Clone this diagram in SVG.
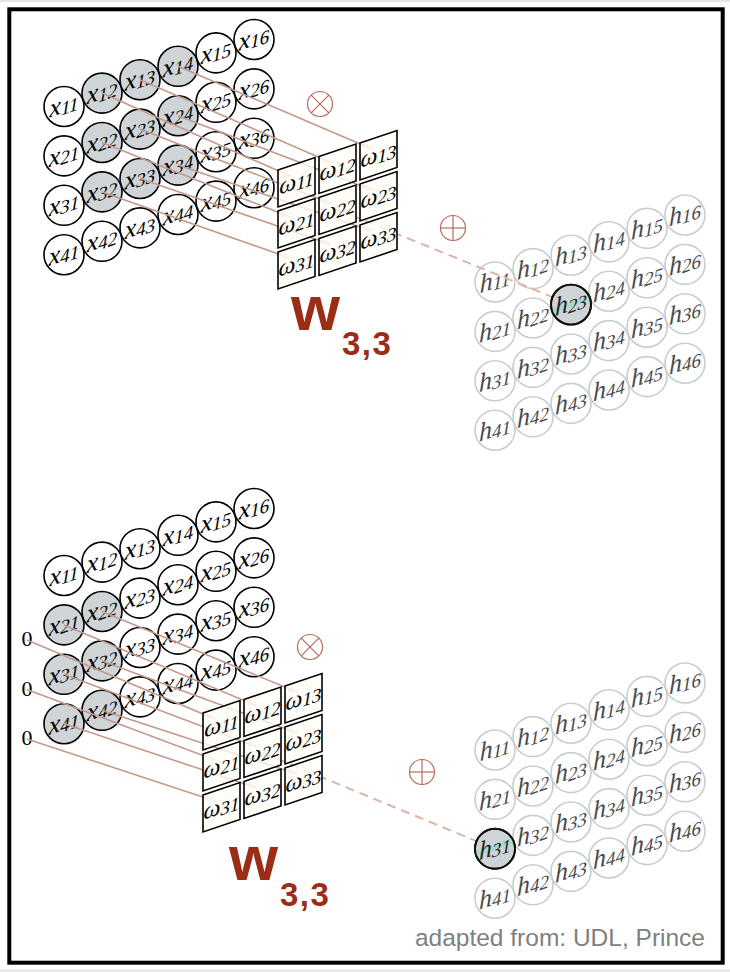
<svg xmlns="http://www.w3.org/2000/svg" width="730" height="972" viewBox="0 0 730 972">
<style>
.xc{fill:#fff;stroke:#000;stroke-width:1.6}
.xs{fill:#cfd4d6;stroke:#000;stroke-width:1.6}
.hc{fill:#fff;stroke:#c8cdd0;stroke-width:1.6}
.hs{fill:#cfd4d6;stroke:#111;stroke-width:1.9}
.lab{font-family:"Liberation Serif","DejaVu Serif",serif;font-style:italic;font-size:26px;text-anchor:middle;fill:#000}
.wl{font-size:24px}
.hl{fill:#4a4a4a}
.hd{fill:#222}
.sub{font-size:19px}
.wb{fill:#fefdf6;fill-opacity:0.78;stroke:#000;stroke-width:1.6}
.ln{stroke:#c39a8c;stroke-width:1.6;fill:none;marker-end:url(#ah)}
.dl{stroke:#dcb4a7;stroke-width:2;fill:none;stroke-dasharray:9 6}
.op{fill:none;stroke:#b86b5a;stroke-width:1.2}
.zero{font-family:"Liberation Serif","DejaVu Serif",serif;font-size:22px;text-anchor:middle;fill:#000}
.W{font-family:"Liberation Sans",Arial,sans-serif;font-weight:bold;fill:#9b2d17}
.teal{stroke:#a6dbd2;stroke-width:5;clip-path:url(#hclip)}
</style>
<defs>
<marker id="ah" markerUnits="userSpaceOnUse" markerWidth="9" markerHeight="7" refX="8" refY="3" orient="auto"><path d="M0,0 L8,3 L0,6 z" fill="#e0c6bd"/></marker>
<clipPath id="hclip"><circle r="20"/></clipPath>
</defs>
<rect x="0" y="0" width="730" height="972" fill="#fff"/>
<rect x="0" y="0" width="730" height="2" fill="#e6e6e6"/>
<rect x="0" y="969" width="730" height="3" fill="#ececec"/>
<rect x="9.3" y="9.3" width="713.4" height="953.4" fill="none" stroke="#000" stroke-width="4"/>

<!-- TOP X GRID -->
<g id="top-x">
<g id="tx11" transform="translate(64,106.5)"><circle r="20" class="xc"/><text class="lab" transform="skewY(-19)" y="6">x<tspan class="sub" dy="2">11</tspan></text></g>
<g id="tx12" transform="translate(102,93.1)"><circle r="20" class="xs"/><text class="lab" transform="skewY(-19)" y="6">x<tspan class="sub" dy="2">12</tspan></text></g>
<g id="tx13" transform="translate(140,79.7)"><circle r="20" class="xs"/><text class="lab" transform="skewY(-19)" y="6">x<tspan class="sub" dy="2">13</tspan></text></g>
<g id="tx14" transform="translate(178,66.3)"><circle r="20" class="xs"/><text class="lab" transform="skewY(-19)" y="6">x<tspan class="sub" dy="2">14</tspan></text></g>
<g id="tx15" transform="translate(216,52.9)"><circle r="20" class="xc"/><text class="lab" transform="skewY(-19)" y="6">x<tspan class="sub" dy="2">15</tspan></text></g>
<g id="tx16" transform="translate(254,39.5)"><circle r="20" class="xc"/><text class="lab" transform="skewY(-19)" y="6">x<tspan class="sub" dy="2">16</tspan></text></g>
<g id="tx21" transform="translate(64,155.9)"><circle r="20" class="xc"/><text class="lab" transform="skewY(-19)" y="6">x<tspan class="sub" dy="2">21</tspan></text></g>
<g id="tx22" transform="translate(102,142.5)"><circle r="20" class="xs"/><text class="lab" transform="skewY(-19)" y="6">x<tspan class="sub" dy="2">22</tspan></text></g>
<g id="tx23" transform="translate(140,129.1)"><circle r="20" class="xs"/><text class="lab" transform="skewY(-19)" y="6">x<tspan class="sub" dy="2">23</tspan></text></g>
<g id="tx24" transform="translate(178,115.7)"><circle r="20" class="xs"/><text class="lab" transform="skewY(-19)" y="6">x<tspan class="sub" dy="2">24</tspan></text></g>
<g id="tx25" transform="translate(216,102.3)"><circle r="20" class="xc"/><text class="lab" transform="skewY(-19)" y="6">x<tspan class="sub" dy="2">25</tspan></text></g>
<g id="tx26" transform="translate(254,88.9)"><circle r="20" class="xc"/><text class="lab" transform="skewY(-19)" y="6">x<tspan class="sub" dy="2">26</tspan></text></g>
<g id="tx31" transform="translate(64,205.3)"><circle r="20" class="xc"/><text class="lab" transform="skewY(-19)" y="6">x<tspan class="sub" dy="2">31</tspan></text></g>
<g id="tx32" transform="translate(102,191.9)"><circle r="20" class="xs"/><text class="lab" transform="skewY(-19)" y="6">x<tspan class="sub" dy="2">32</tspan></text></g>
<g id="tx33" transform="translate(140,178.5)"><circle r="20" class="xs"/><text class="lab" transform="skewY(-19)" y="6">x<tspan class="sub" dy="2">33</tspan></text></g>
<g id="tx34" transform="translate(178,165.1)"><circle r="20" class="xs"/><text class="lab" transform="skewY(-19)" y="6">x<tspan class="sub" dy="2">34</tspan></text></g>
<g id="tx35" transform="translate(216,151.7)"><circle r="20" class="xc"/><text class="lab" transform="skewY(-19)" y="6">x<tspan class="sub" dy="2">35</tspan></text></g>
<g id="tx36" transform="translate(254,138.3)"><circle r="20" class="xc"/><text class="lab" transform="skewY(-19)" y="6">x<tspan class="sub" dy="2">36</tspan></text></g>
<g id="tx41" transform="translate(64,254.7)"><circle r="20" class="xc"/><text class="lab" transform="skewY(-19)" y="6">x<tspan class="sub" dy="2">41</tspan></text></g>
<g id="tx42" transform="translate(102,241.3)"><circle r="20" class="xc"/><text class="lab" transform="skewY(-19)" y="6">x<tspan class="sub" dy="2">42</tspan></text></g>
<g id="tx43" transform="translate(140,227.9)"><circle r="20" class="xc"/><text class="lab" transform="skewY(-19)" y="6">x<tspan class="sub" dy="2">43</tspan></text></g>
<g id="tx44" transform="translate(178,214.5)"><circle r="20" class="xc"/><text class="lab" transform="skewY(-19)" y="6">x<tspan class="sub" dy="2">44</tspan></text></g>
<g id="tx45" transform="translate(216,201.1)"><circle r="20" class="xc"/><text class="lab" transform="skewY(-19)" y="6">x<tspan class="sub" dy="2">45</tspan></text></g>
<g id="tx46" transform="translate(254,187.7)"><circle r="20" class="xc"/><text class="lab" transform="skewY(-19)" y="6">x<tspan class="sub" dy="2">46</tspan></text></g>
</g>

<!-- BOTTOM X GRID -->
<g id="bot-x">
<g id="bx11" transform="translate(64,575.5)"><circle r="20" class="xc"/><text class="lab" transform="skewY(-19)" y="6">x<tspan class="sub" dy="2">11</tspan></text></g>
<g id="bx12" transform="translate(102,562.1)"><circle r="20" class="xc"/><text class="lab" transform="skewY(-19)" y="6">x<tspan class="sub" dy="2">12</tspan></text></g>
<g id="bx13" transform="translate(140,548.7)"><circle r="20" class="xc"/><text class="lab" transform="skewY(-19)" y="6">x<tspan class="sub" dy="2">13</tspan></text></g>
<g id="bx14" transform="translate(178,535.3)"><circle r="20" class="xc"/><text class="lab" transform="skewY(-19)" y="6">x<tspan class="sub" dy="2">14</tspan></text></g>
<g id="bx15" transform="translate(216,521.9)"><circle r="20" class="xc"/><text class="lab" transform="skewY(-19)" y="6">x<tspan class="sub" dy="2">15</tspan></text></g>
<g id="bx16" transform="translate(254,508.5)"><circle r="20" class="xc"/><text class="lab" transform="skewY(-19)" y="6">x<tspan class="sub" dy="2">16</tspan></text></g>
<g id="bx21" transform="translate(64,624.9)"><circle r="20" class="xs"/><text class="lab" transform="skewY(-19)" y="6">x<tspan class="sub" dy="2">21</tspan></text></g>
<g id="bx22" transform="translate(102,611.5)"><circle r="20" class="xs"/><text class="lab" transform="skewY(-19)" y="6">x<tspan class="sub" dy="2">22</tspan></text></g>
<g id="bx23" transform="translate(140,598.1)"><circle r="20" class="xc"/><text class="lab" transform="skewY(-19)" y="6">x<tspan class="sub" dy="2">23</tspan></text></g>
<g id="bx24" transform="translate(178,584.7)"><circle r="20" class="xc"/><text class="lab" transform="skewY(-19)" y="6">x<tspan class="sub" dy="2">24</tspan></text></g>
<g id="bx25" transform="translate(216,571.3)"><circle r="20" class="xc"/><text class="lab" transform="skewY(-19)" y="6">x<tspan class="sub" dy="2">25</tspan></text></g>
<g id="bx26" transform="translate(254,557.9)"><circle r="20" class="xc"/><text class="lab" transform="skewY(-19)" y="6">x<tspan class="sub" dy="2">26</tspan></text></g>
<g id="bx31" transform="translate(64,674.3)"><circle r="20" class="xs"/><text class="lab" transform="skewY(-19)" y="6">x<tspan class="sub" dy="2">31</tspan></text></g>
<g id="bx32" transform="translate(102,660.9)"><circle r="20" class="xs"/><text class="lab" transform="skewY(-19)" y="6">x<tspan class="sub" dy="2">32</tspan></text></g>
<g id="bx33" transform="translate(140,647.5)"><circle r="20" class="xc"/><text class="lab" transform="skewY(-19)" y="6">x<tspan class="sub" dy="2">33</tspan></text></g>
<g id="bx34" transform="translate(178,634.1)"><circle r="20" class="xc"/><text class="lab" transform="skewY(-19)" y="6">x<tspan class="sub" dy="2">34</tspan></text></g>
<g id="bx35" transform="translate(216,620.7)"><circle r="20" class="xc"/><text class="lab" transform="skewY(-19)" y="6">x<tspan class="sub" dy="2">35</tspan></text></g>
<g id="bx36" transform="translate(254,607.3)"><circle r="20" class="xc"/><text class="lab" transform="skewY(-19)" y="6">x<tspan class="sub" dy="2">36</tspan></text></g>
<g id="bx41" transform="translate(64,723.7)"><circle r="20" class="xs"/><text class="lab" transform="skewY(-19)" y="6">x<tspan class="sub" dy="2">41</tspan></text></g>
<g id="bx42" transform="translate(102,710.3)"><circle r="20" class="xs"/><text class="lab" transform="skewY(-19)" y="6">x<tspan class="sub" dy="2">42</tspan></text></g>
<g id="bx43" transform="translate(140,696.9)"><circle r="20" class="xc"/><text class="lab" transform="skewY(-19)" y="6">x<tspan class="sub" dy="2">43</tspan></text></g>
<g id="bx44" transform="translate(178,683.5)"><circle r="20" class="xc"/><text class="lab" transform="skewY(-19)" y="6">x<tspan class="sub" dy="2">44</tspan></text></g>
<g id="bx45" transform="translate(216,670.1)"><circle r="20" class="xc"/><text class="lab" transform="skewY(-19)" y="6">x<tspan class="sub" dy="2">45</tspan></text></g>
<g id="bx46" transform="translate(254,656.7)"><circle r="20" class="xc"/><text class="lab" transform="skewY(-19)" y="6">x<tspan class="sub" dy="2">46</tspan></text></g>
</g>

<g id="zeros">
<text class="zero" x="27" y="646">0</text>
<text class="zero" x="27" y="695.5">0</text>
<text class="zero" x="27" y="745">0</text>
</g>

<!-- TOP H GRID -->
<g id="top-h">
<g id="th11" transform="translate(495,282)"><circle r="20" class="hc"/><text class="lab hl" transform="skewY(-19)" y="6">h<tspan class="sub" dy="2">11</tspan></text></g>
<g id="th12" transform="translate(533,268.6)"><circle r="20" class="hc"/><text class="lab hl" transform="skewY(-19)" y="6">h<tspan class="sub" dy="2">12</tspan></text></g>
<g id="th13" transform="translate(571,255.2)"><circle r="20" class="hc"/><text class="lab hl" transform="skewY(-19)" y="6">h<tspan class="sub" dy="2">13</tspan></text></g>
<g id="th14" transform="translate(609,241.8)"><circle r="20" class="hc"/><text class="lab hl" transform="skewY(-19)" y="6">h<tspan class="sub" dy="2">14</tspan></text></g>
<g id="th15" transform="translate(647,228.4)"><circle r="20" class="hc"/><text class="lab hl" transform="skewY(-19)" y="6">h<tspan class="sub" dy="2">15</tspan></text></g>
<g id="th16" transform="translate(685,215)"><circle r="20" class="hc"/><text class="lab hl" transform="skewY(-19)" y="6">h<tspan class="sub" dy="2">16</tspan></text></g>
<g id="th21" transform="translate(495,331.4)"><circle r="20" class="hc"/><text class="lab hl" transform="skewY(-19)" y="6">h<tspan class="sub" dy="2">21</tspan></text></g>
<g id="th22" transform="translate(533,318)"><circle r="20" class="hc"/><text class="lab hl" transform="skewY(-19)" y="6">h<tspan class="sub" dy="2">22</tspan></text></g>
<g id="th24" transform="translate(609,291.2)"><circle r="20" class="hc"/><text class="lab hl" transform="skewY(-19)" y="6">h<tspan class="sub" dy="2">24</tspan></text></g>
<g id="th25" transform="translate(647,277.8)"><circle r="20" class="hc"/><text class="lab hl" transform="skewY(-19)" y="6">h<tspan class="sub" dy="2">25</tspan></text></g>
<g id="th26" transform="translate(685,264.4)"><circle r="20" class="hc"/><text class="lab hl" transform="skewY(-19)" y="6">h<tspan class="sub" dy="2">26</tspan></text></g>
<g id="th31" transform="translate(495,380.8)"><circle r="20" class="hc"/><text class="lab hl" transform="skewY(-19)" y="6">h<tspan class="sub" dy="2">31</tspan></text></g>
<g id="th32" transform="translate(533,367.4)"><circle r="20" class="hc"/><text class="lab hl" transform="skewY(-19)" y="6">h<tspan class="sub" dy="2">32</tspan></text></g>
<g id="th33" transform="translate(571,354)"><circle r="20" class="hc"/><text class="lab hl" transform="skewY(-19)" y="6">h<tspan class="sub" dy="2">33</tspan></text></g>
<g id="th34" transform="translate(609,340.6)"><circle r="20" class="hc"/><text class="lab hl" transform="skewY(-19)" y="6">h<tspan class="sub" dy="2">34</tspan></text></g>
<g id="th35" transform="translate(647,327.2)"><circle r="20" class="hc"/><text class="lab hl" transform="skewY(-19)" y="6">h<tspan class="sub" dy="2">35</tspan></text></g>
<g id="th36" transform="translate(685,313.8)"><circle r="20" class="hc"/><text class="lab hl" transform="skewY(-19)" y="6">h<tspan class="sub" dy="2">36</tspan></text></g>
<g id="th41" transform="translate(495,430.2)"><circle r="20" class="hc"/><text class="lab hl" transform="skewY(-19)" y="6">h<tspan class="sub" dy="2">41</tspan></text></g>
<g id="th42" transform="translate(533,416.8)"><circle r="20" class="hc"/><text class="lab hl" transform="skewY(-19)" y="6">h<tspan class="sub" dy="2">42</tspan></text></g>
<g id="th43" transform="translate(571,403.4)"><circle r="20" class="hc"/><text class="lab hl" transform="skewY(-19)" y="6">h<tspan class="sub" dy="2">43</tspan></text></g>
<g id="th44" transform="translate(609,390)"><circle r="20" class="hc"/><text class="lab hl" transform="skewY(-19)" y="6">h<tspan class="sub" dy="2">44</tspan></text></g>
<g id="th45" transform="translate(647,376.6)"><circle r="20" class="hc"/><text class="lab hl" transform="skewY(-19)" y="6">h<tspan class="sub" dy="2">45</tspan></text></g>
<g id="th46" transform="translate(685,363.2)"><circle r="20" class="hc"/><text class="lab hl" transform="skewY(-19)" y="6">h<tspan class="sub" dy="2">46</tspan></text></g>
</g>

<!-- BOTTOM H GRID -->
<g id="bot-h">
<g id="bh11" transform="translate(495,750)"><circle r="20" class="hc"/><text class="lab hl" transform="skewY(-19)" y="6">h<tspan class="sub" dy="2">11</tspan></text></g>
<g id="bh12" transform="translate(533,736.6)"><circle r="20" class="hc"/><text class="lab hl" transform="skewY(-19)" y="6">h<tspan class="sub" dy="2">12</tspan></text></g>
<g id="bh13" transform="translate(571,723.2)"><circle r="20" class="hc"/><text class="lab hl" transform="skewY(-19)" y="6">h<tspan class="sub" dy="2">13</tspan></text></g>
<g id="bh14" transform="translate(609,709.8)"><circle r="20" class="hc"/><text class="lab hl" transform="skewY(-19)" y="6">h<tspan class="sub" dy="2">14</tspan></text></g>
<g id="bh15" transform="translate(647,696.4)"><circle r="20" class="hc"/><text class="lab hl" transform="skewY(-19)" y="6">h<tspan class="sub" dy="2">15</tspan></text></g>
<g id="bh16" transform="translate(685,683)"><circle r="20" class="hc"/><text class="lab hl" transform="skewY(-19)" y="6">h<tspan class="sub" dy="2">16</tspan></text></g>
<g id="bh21" transform="translate(495,799.4)"><circle r="20" class="hc"/><text class="lab hl" transform="skewY(-19)" y="6">h<tspan class="sub" dy="2">21</tspan></text></g>
<g id="bh22" transform="translate(533,786)"><circle r="20" class="hc"/><text class="lab hl" transform="skewY(-19)" y="6">h<tspan class="sub" dy="2">22</tspan></text></g>
<g id="bh23" transform="translate(571,772.6)"><circle r="20" class="hc"/><text class="lab hl" transform="skewY(-19)" y="6">h<tspan class="sub" dy="2">23</tspan></text></g>
<g id="bh24" transform="translate(609,759.2)"><circle r="20" class="hc"/><text class="lab hl" transform="skewY(-19)" y="6">h<tspan class="sub" dy="2">24</tspan></text></g>
<g id="bh25" transform="translate(647,745.8)"><circle r="20" class="hc"/><text class="lab hl" transform="skewY(-19)" y="6">h<tspan class="sub" dy="2">25</tspan></text></g>
<g id="bh26" transform="translate(685,732.4)"><circle r="20" class="hc"/><text class="lab hl" transform="skewY(-19)" y="6">h<tspan class="sub" dy="2">26</tspan></text></g>
<g id="bh32" transform="translate(533,835.4)"><circle r="20" class="hc"/><text class="lab hl" transform="skewY(-19)" y="6">h<tspan class="sub" dy="2">32</tspan></text></g>
<g id="bh33" transform="translate(571,822)"><circle r="20" class="hc"/><text class="lab hl" transform="skewY(-19)" y="6">h<tspan class="sub" dy="2">33</tspan></text></g>
<g id="bh34" transform="translate(609,808.6)"><circle r="20" class="hc"/><text class="lab hl" transform="skewY(-19)" y="6">h<tspan class="sub" dy="2">34</tspan></text></g>
<g id="bh35" transform="translate(647,795.2)"><circle r="20" class="hc"/><text class="lab hl" transform="skewY(-19)" y="6">h<tspan class="sub" dy="2">35</tspan></text></g>
<g id="bh36" transform="translate(685,781.8)"><circle r="20" class="hc"/><text class="lab hl" transform="skewY(-19)" y="6">h<tspan class="sub" dy="2">36</tspan></text></g>
<g id="bh41" transform="translate(495,898.2)"><circle r="20" class="hc"/><text class="lab hl" transform="skewY(-19)" y="6">h<tspan class="sub" dy="2">41</tspan></text></g>
<g id="bh42" transform="translate(533,884.8)"><circle r="20" class="hc"/><text class="lab hl" transform="skewY(-19)" y="6">h<tspan class="sub" dy="2">42</tspan></text></g>
<g id="bh43" transform="translate(571,871.4)"><circle r="20" class="hc"/><text class="lab hl" transform="skewY(-19)" y="6">h<tspan class="sub" dy="2">43</tspan></text></g>
<g id="bh44" transform="translate(609,858)"><circle r="20" class="hc"/><text class="lab hl" transform="skewY(-19)" y="6">h<tspan class="sub" dy="2">44</tspan></text></g>
<g id="bh45" transform="translate(647,844.6)"><circle r="20" class="hc"/><text class="lab hl" transform="skewY(-19)" y="6">h<tspan class="sub" dy="2">45</tspan></text></g>
<g id="bh46" transform="translate(685,831.2)"><circle r="20" class="hc"/><text class="lab hl" transform="skewY(-19)" y="6">h<tspan class="sub" dy="2">46</tspan></text></g>
</g>

<!-- CONNECTORS -->
<g id="connectors">
<line class="ln" x1="102" y1="93.1" x2="290" y2="176"/>
<line class="ln" x1="140" y1="79.7" x2="331" y2="162.5"/>
<line class="ln" x1="178" y1="66.3" x2="372" y2="149"/>
<line class="ln" x1="102" y1="142.5" x2="290" y2="217"/>
<line class="ln" x1="140" y1="129.1" x2="331" y2="203.5"/>
<line class="ln" x1="178" y1="115.7" x2="372" y2="190"/>
<line class="ln" x1="102" y1="191.9" x2="290" y2="258"/>
<line class="ln" x1="140" y1="178.5" x2="331" y2="244.5"/>
<line class="ln" x1="178" y1="165.1" x2="372" y2="231"/>
<line class="dl" x1="337.5" y1="209.75" x2="571" y2="304.6"/>

<line class="ln" x1="27" y1="640" x2="215" y2="719"/>
<line class="ln" x1="64" y1="624.9" x2="256" y2="705.5"/>
<line class="ln" x1="102" y1="611.5" x2="297" y2="692"/>
<line class="ln" x1="27" y1="689.5" x2="215" y2="760"/>
<line class="ln" x1="64" y1="674.3" x2="256" y2="746.5"/>
<line class="ln" x1="102" y1="660.9" x2="297" y2="733"/>
<line class="ln" x1="27" y1="739" x2="215" y2="801"/>
<line class="ln" x1="64" y1="723.7" x2="256" y2="787.5"/>
<line class="ln" x1="102" y1="710.3" x2="297" y2="774"/>
<line class="dl" x1="262.5" y1="752.75" x2="495" y2="848.8"/>
</g>

<!-- TOP WEIGHTS -->
<g id="top-w">
<g id="tw11" transform="translate(278,170)"><polygon class="wb" points="0,0 37,-12.5 37,24.5 0,37"/><text class="lab wl" transform="translate(18.5,12.5) skewY(-19)" y="6">ω<tspan class="sub" dy="2">11</tspan></text></g>
<g id="tw12" transform="translate(319,156.5)"><polygon class="wb" points="0,0 37,-12.5 37,24.5 0,37"/><text class="lab wl" transform="translate(18.5,12.5) skewY(-19)" y="6">ω<tspan class="sub" dy="2">12</tspan></text></g>
<g id="tw13" transform="translate(360,143)"><polygon class="wb" points="0,0 37,-12.5 37,24.5 0,37"/><text class="lab wl" transform="translate(18.5,12.5) skewY(-19)" y="6">ω<tspan class="sub" dy="2">13</tspan></text></g>
<g id="tw21" transform="translate(278,211)"><polygon class="wb" points="0,0 37,-12.5 37,24.5 0,37"/><text class="lab wl" transform="translate(18.5,12.5) skewY(-19)" y="6">ω<tspan class="sub" dy="2">21</tspan></text></g>
<g id="tw22" transform="translate(319,197.5)"><polygon class="wb" points="0,0 37,-12.5 37,24.5 0,37"/><text class="lab wl" transform="translate(18.5,12.5) skewY(-19)" y="6">ω<tspan class="sub" dy="2">22</tspan></text></g>
<g id="tw23" transform="translate(360,184)"><polygon class="wb" points="0,0 37,-12.5 37,24.5 0,37"/><text class="lab wl" transform="translate(18.5,12.5) skewY(-19)" y="6">ω<tspan class="sub" dy="2">23</tspan></text></g>
<g id="tw31" transform="translate(278,252)"><polygon class="wb" points="0,0 37,-12.5 37,24.5 0,37"/><text class="lab wl" transform="translate(18.5,12.5) skewY(-19)" y="6">ω<tspan class="sub" dy="2">31</tspan></text></g>
<g id="tw32" transform="translate(319,238.5)"><polygon class="wb" points="0,0 37,-12.5 37,24.5 0,37"/><text class="lab wl" transform="translate(18.5,12.5) skewY(-19)" y="6">ω<tspan class="sub" dy="2">32</tspan></text></g>
<g id="tw33" transform="translate(360,225)"><polygon class="wb" points="0,0 37,-12.5 37,24.5 0,37"/><text class="lab wl" transform="translate(18.5,12.5) skewY(-19)" y="6">ω<tspan class="sub" dy="2">33</tspan></text></g>
</g>

<!-- BOTTOM WEIGHTS -->
<g id="bot-w">
<g id="bw11" transform="translate(203,713)"><polygon class="wb" points="0,0 37,-12.5 37,24.5 0,37"/><text class="lab wl" transform="translate(18.5,12.5) skewY(-19)" y="6">ω<tspan class="sub" dy="2">11</tspan></text></g>
<g id="bw12" transform="translate(244,699.5)"><polygon class="wb" points="0,0 37,-12.5 37,24.5 0,37"/><text class="lab wl" transform="translate(18.5,12.5) skewY(-19)" y="6">ω<tspan class="sub" dy="2">12</tspan></text></g>
<g id="bw13" transform="translate(285,686)"><polygon class="wb" points="0,0 37,-12.5 37,24.5 0,37"/><text class="lab wl" transform="translate(18.5,12.5) skewY(-19)" y="6">ω<tspan class="sub" dy="2">13</tspan></text></g>
<g id="bw21" transform="translate(203,754)"><polygon class="wb" points="0,0 37,-12.5 37,24.5 0,37"/><text class="lab wl" transform="translate(18.5,12.5) skewY(-19)" y="6">ω<tspan class="sub" dy="2">21</tspan></text></g>
<g id="bw22" transform="translate(244,740.5)"><polygon class="wb" points="0,0 37,-12.5 37,24.5 0,37"/><text class="lab wl" transform="translate(18.5,12.5) skewY(-19)" y="6">ω<tspan class="sub" dy="2">22</tspan></text></g>
<g id="bw23" transform="translate(285,727)"><polygon class="wb" points="0,0 37,-12.5 37,24.5 0,37"/><text class="lab wl" transform="translate(18.5,12.5) skewY(-19)" y="6">ω<tspan class="sub" dy="2">23</tspan></text></g>
<g id="bw31" transform="translate(203,795)"><polygon class="wb" points="0,0 37,-12.5 37,24.5 0,37"/><text class="lab wl" transform="translate(18.5,12.5) skewY(-19)" y="6">ω<tspan class="sub" dy="2">31</tspan></text></g>
<g id="bw32" transform="translate(244,781.5)"><polygon class="wb" points="0,0 37,-12.5 37,24.5 0,37"/><text class="lab wl" transform="translate(18.5,12.5) skewY(-19)" y="6">ω<tspan class="sub" dy="2">32</tspan></text></g>
<g id="bw33" transform="translate(285,768)"><polygon class="wb" points="0,0 37,-12.5 37,24.5 0,37"/><text class="lab wl" transform="translate(18.5,12.5) skewY(-19)" y="6">ω<tspan class="sub" dy="2">33</tspan></text></g>
</g>

<!-- HIGHLIGHTED OUTPUTS -->
<g id="th23" transform="translate(571,304.6)"><circle r="20" class="hs"/><line class="teal" x1="-22" y1="8" x2="22" y2="-8"/><circle r="20" fill="none" stroke="#111" stroke-width="1.9"/><text class="lab hd" transform="skewY(-19)" y="6">h<tspan class="sub" dy="2">23</tspan></text></g>
<g id="bh31" transform="translate(495,848.8)"><circle r="20" class="hs"/><line class="teal" x1="-22" y1="6" x2="22" y2="-10"/><circle r="20" fill="none" stroke="#111" stroke-width="1.9"/><text class="lab hd" transform="skewY(-19)" y="6">h<tspan class="sub" dy="2">31</tspan></text></g>

<!-- OPERATORS -->
<g id="top-times" transform="translate(320,104)"><circle r="12.5" class="op"/><line class="op" x1="-8.8" y1="-8.8" x2="8.8" y2="8.8"/><line class="op" x1="-8.8" y1="8.8" x2="8.8" y2="-8.8"/></g>
<g id="top-plus" transform="translate(453,228)"><circle r="12.5" class="op"/><line class="op" x1="-12.5" y1="0" x2="12.5" y2="0"/><line class="op" x1="0" y1="-12.5" x2="0" y2="12.5"/></g>
<g id="bot-times" transform="translate(310,647)"><circle r="12.5" class="op"/><line class="op" x1="-8.8" y1="-8.8" x2="8.8" y2="8.8"/><line class="op" x1="-8.8" y1="8.8" x2="8.8" y2="-8.8"/></g>
<g id="bot-plus" transform="translate(422,772)"><circle r="12.5" class="op"/><line class="op" x1="-12.5" y1="0" x2="12.5" y2="0"/><line class="op" x1="0" y1="-12.5" x2="0" y2="12.5"/></g>

<!-- KERNEL LABELS -->
<g id="top-wlabel"><text class="W" x="291" y="329.5" font-size="63">w</text><text class="W" x="342" y="355" font-size="33" letter-spacing="1.5">3,3</text></g>
<g id="bot-wlabel"><text class="W" x="229" y="880" font-size="63">w</text><text class="W" x="280" y="905.5" font-size="33" letter-spacing="1.5">3,3</text></g>

<text x="705" y="946" font-family="'Liberation Sans',Arial,sans-serif" font-size="24.5" fill="#808080" text-anchor="end">adapted from: UDL, Prince</text>
</svg>
